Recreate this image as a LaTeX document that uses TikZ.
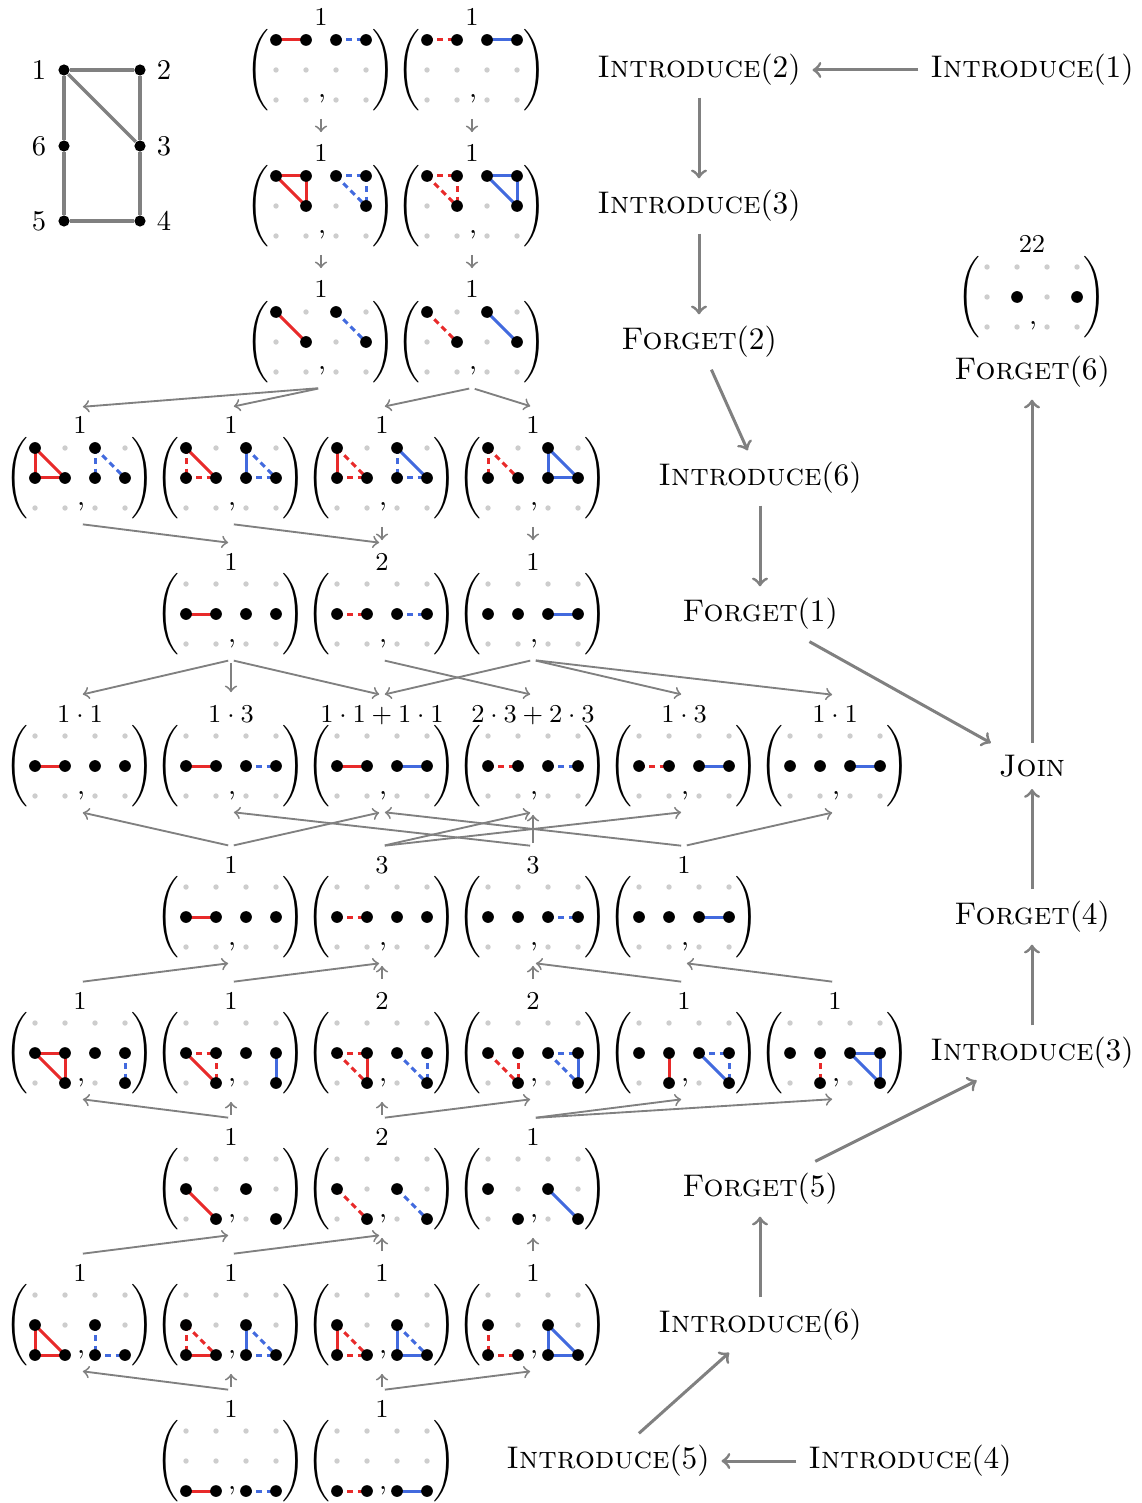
\documentclass[tikz,border=0pt]{standalone}
\usepackage{graphicx}
\definecolor{myred}{RGB}{232,42,42}
\definecolor{myblue}{RGB}{66,106,222}
\definecolor{dotgray}{RGB}{205,205,205}
\definecolor{arrgray}{RGB}{128,128,128}
\tikzset{
  eR/.style={myred, line width=1.05pt},
  eB/.style={myblue, line width=1.05pt},
  sol/.style={},
  dsh/.style={dash pattern=on 2.1pt off 1.5pt},
  marr/.style={->, arrgray, line width=0.65pt, shorten <=1pt, shorten >=1pt},
  tarr/.style={->, arrgray, line width=1.05pt},
  tnode/.style={inner sep=4pt, font=\fontsize{10.95}{13}\selectfont},
  mlabel/.style={font=\small, inner sep=0pt, anchor=base},
  paren/.style={inner sep=0pt},
  commanode/.style={inner sep=0pt, anchor=base},
  gv/.style={circle, fill=black, inner sep=0pt, minimum size=3.9pt},
  gedge/.style={arrgray, line width=1.15pt},
  glab/.style={font=\normalsize, inner sep=0pt},
}
\newcommand\myLp{\scalebox{1}[0.95]{$\Bigg($}}
\newcommand\myRp{\scalebox{1}[0.95]{$\Bigg)$}}
\newcommand\mmat[6]{%
\begin{scope}[shift={(#2,#3)}]
\foreach \cc in {1,2,3,4}{\foreach \rr in {1,2,3}{\fill[dotgray] ({(\cc-2.5)*30},{(\rr-2)*30}) circle (0.95pt);}}
\foreach \ca/\ra/\cb/\rb/\col/\sty in {#6}{\draw[\col,\sty] ({(\ca-2.5)*30},{(\ra-2)*30}) -- ({(\cb-2.5)*30},{(\rb-2)*30});}
\foreach \cc/\rr in {#5}{\fill[black] ({(\cc-2.5)*30},{(\rr-2)*30}) circle (2.05pt);}
\node[paren] (#1-lp) at (-63,0) {\myLp};
\node[paren] (#1-rp) at (63,0) {\myRp};
\node[commanode] (#1-cm) at (1,28) {,};
\node[mlabel] (#1) at (0,-44) {$#4$};
\coordinate (#1-t) at (0,-71);
\coordinate (#1-b) at (0,46);
\end{scope}}
\begin{document}
\begin{tikzpicture}[x=0.35pt,y=-0.35pt]
\useasboundingbox (0,0) rectangle (1142,1503);
% graph
\node[gv] (g1) at (64,70) {};
\node[gv] (g2) at (140,70) {};
\node[gv] (g6) at (64,146) {};
\node[gv] (g3) at (140,146) {};
\node[gv] (g5) at (64,221) {};
\node[gv] (g4) at (140,221) {};
\draw[gedge] (g1) -- (g2);
\draw[gedge] (g1) -- (g3);
\draw[gedge] (g2) -- (g3);
\draw[gedge] (g1) -- (g6);
\draw[gedge] (g6) -- (g5);
\draw[gedge] (g5) -- (g4);
\draw[gedge] (g3) -- (g4);
\node[glab] (gl1) at (39,70) {1};
\node[glab] (gl2) at (164,70) {2};
\node[glab] (gl6) at (39,146) {6};
\node[glab] (gl3) at (164,146) {3};
\node[glab] (gl5) at (39,221) {5};
\node[glab] (gl4) at (164,221) {4};
% row 1
\mmat{r1a}{321}{70}{1}{1/1,2/1,3/1,4/1}{1/1/2/1/eR/sol,3/1/4/1/eB/dsh}
\mmat{r1b}{472}{70}{1}{1/1,2/1,3/1,4/1}{1/1/2/1/eR/dsh,3/1/4/1/eB/sol}
% row 2
\mmat{r2a}{321}{206}{1}{1/1,2/1,2/2,3/1,4/1,4/2}{1/1/2/1/eR/sol,2/1/2/2/eR/sol,1/1/2/2/eR/sol,3/1/4/1/eB/dsh,4/1/4/2/eB/dsh,3/1/4/2/eB/dsh}
\mmat{r2b}{472}{206}{1}{1/1,2/1,2/2,3/1,4/1,4/2}{1/1/2/1/eR/dsh,2/1/2/2/eR/dsh,1/1/2/2/eR/dsh,3/1/4/1/eB/sol,4/1/4/2/eB/sol,3/1/4/2/eB/sol}
% row 3
\mmat{r3a}{321}{342}{1}{1/1,2/2,3/1,4/2}{1/1/2/2/eR/sol,3/1/4/2/eB/dsh}
\mmat{r3b}{472}{342}{1}{1/1,2/2,3/1,4/2}{1/1/2/2/eR/dsh,3/1/4/2/eB/sol}
% row 4
\mmat{r4a}{80}{478}{1}{1/1,1/2,2/2,3/1,3/2,4/2}{1/1/1/2/eR/sol,1/2/2/2/eR/sol,1/1/2/2/eR/sol,3/1/3/2/eB/dsh,3/1/4/2/eB/dsh}
\mmat{r4b}{231}{478}{1}{1/1,1/2,2/2,3/1,3/2,4/2}{1/1/1/2/eR/dsh,1/1/2/2/eR/sol,1/2/2/2/eR/dsh,3/1/3/2/eB/sol,3/1/4/2/eB/dsh,3/2/4/2/eB/dsh}
\mmat{r4c}{382}{478}{1}{1/1,1/2,2/2,3/1,3/2,4/2}{1/1/1/2/eR/sol,1/1/2/2/eR/dsh,1/2/2/2/eR/dsh,3/1/3/2/eB/dsh,3/1/4/2/eB/sol,3/2/4/2/eB/dsh}
\mmat{r4d}{533}{478}{1}{1/1,1/2,2/2,3/1,3/2,4/2}{1/1/1/2/eR/dsh,1/1/2/2/eR/dsh,3/1/3/2/eB/sol,3/1/4/2/eB/sol,3/2/4/2/eB/sol}
% row 5
\mmat{r5a}{231}{614}{1}{1/2,2/2,3/2,4/2}{1/2/2/2/eR/sol}
\mmat{r5b}{382}{614}{2}{1/2,2/2,3/2,4/2}{1/2/2/2/eR/dsh,3/2/4/2/eB/dsh}
\mmat{r5c}{533}{614}{1}{1/2,2/2,3/2,4/2}{3/2/4/2/eB/sol}
% row 6
\mmat{r6a}{80}{766}{1\cdot 1}{1/2,2/2,3/2,4/2}{1/2/2/2/eR/sol}
\mmat{r6b}{231}{766}{1\cdot 3}{1/2,2/2,3/2,4/2}{1/2/2/2/eR/sol,3/2/4/2/eB/dsh}
\mmat{r6c}{382}{766}{1\cdot 1+1\cdot 1}{1/2,2/2,3/2,4/2}{1/2/2/2/eR/sol,3/2/4/2/eB/sol}
\mmat{r6d}{533}{766}{2\cdot 3+2\cdot 3}{1/2,2/2,3/2,4/2}{1/2/2/2/eR/dsh,3/2/4/2/eB/dsh}
\mmat{r6e}{684}{766}{1\cdot 3}{1/2,2/2,3/2,4/2}{1/2/2/2/eR/dsh,3/2/4/2/eB/sol}
\mmat{r6f}{835}{766}{1\cdot 1}{1/2,2/2,3/2,4/2}{3/2/4/2/eB/sol}
% row 7
\mmat{r7a}{231}{917}{1}{1/2,2/2,3/2,4/2}{1/2/2/2/eR/sol}
\mmat{r7b}{382}{917}{3}{1/2,2/2,3/2,4/2}{1/2/2/2/eR/dsh}
\mmat{r7c}{533}{917}{3}{1/2,2/2,3/2,4/2}{3/2/4/2/eB/dsh}
\mmat{r7d}{684}{917}{1}{1/2,2/2,3/2,4/2}{3/2/4/2/eB/sol}
% row 8
\mmat{r8a}{80}{1053}{1}{1/2,2/2,2/3,3/2,4/2,4/3}{1/2/2/2/eR/sol,2/2/2/3/eR/sol,1/2/2/3/eR/sol,4/2/4/3/eB/dsh}
\mmat{r8b}{231}{1053}{1}{1/2,2/2,2/3,3/2,4/2,4/3}{1/2/2/2/eR/dsh,1/2/2/3/eR/sol,2/2/2/3/eR/dsh,4/2/4/3/eB/sol}
\mmat{r8c}{382}{1053}{2}{1/2,2/2,2/3,3/2,4/2,4/3}{1/2/2/2/eR/dsh,1/2/2/3/eR/dsh,2/2/2/3/eR/sol,3/2/4/3/eB/dsh,4/2/4/3/eB/dsh}
\mmat{r8d}{533}{1053}{2}{1/2,2/2,2/3,3/2,4/2,4/3}{1/2/2/3/eR/dsh,2/2/2/3/eR/dsh,3/2/4/2/eB/dsh,3/2/4/3/eB/dsh,4/2/4/3/eB/sol}
\mmat{r8e}{684}{1053}{1}{1/2,2/2,2/3,3/2,4/2,4/3}{2/2/2/3/eR/sol,3/2/4/2/eB/dsh,3/2/4/3/eB/sol,4/2/4/3/eB/dsh}
\mmat{r8f}{835}{1053}{1}{1/2,2/2,2/3,3/2,4/2,4/3}{2/2/2/3/eR/dsh,3/2/4/2/eB/sol,3/2/4/3/eB/sol,4/2/4/3/eB/sol}
% row 9
\mmat{r9a}{231}{1189}{1}{1/2,2/3,3/2,4/3}{1/2/2/3/eR/sol}
\mmat{r9b}{382}{1189}{2}{1/2,2/3,3/2,4/3}{1/2/2/3/eR/dsh,3/2/4/3/eB/dsh}
\mmat{r9c}{533}{1189}{1}{1/2,2/3,3/2,4/3}{3/2/4/3/eB/sol}
% row 10
\mmat{r10a}{80}{1325}{1}{1/2,1/3,2/3,3/2,3/3,4/3}{1/2/1/3/eR/sol,1/2/2/3/eR/sol,1/3/2/3/eR/sol,3/2/3/3/eB/dsh,3/3/4/3/eB/dsh}
\mmat{r10b}{231}{1325}{1}{1/2,1/3,2/3,3/2,3/3,4/3}{1/2/1/3/eR/dsh,1/2/2/3/eR/dsh,1/3/2/3/eR/sol,3/2/3/3/eB/sol,3/2/4/3/eB/dsh,3/3/4/3/eB/dsh}
\mmat{r10c}{382}{1325}{1}{1/2,1/3,2/3,3/2,3/3,4/3}{1/2/1/3/eR/sol,1/2/2/3/eR/dsh,1/3/2/3/eR/dsh,3/2/3/3/eB/sol,3/2/4/3/eB/dsh,3/3/4/3/eB/sol}
\mmat{r10d}{533}{1325}{1}{1/2,1/3,2/3,3/2,3/3,4/3}{1/2/1/3/eR/dsh,1/3/2/3/eR/dsh,3/2/3/3/eB/sol,3/2/4/3/eB/sol,3/3/4/3/eB/sol}
% row 11
\mmat{r11a}{231}{1461}{1}{1/3,2/3,3/3,4/3}{1/3/2/3/eR/sol,3/3/4/3/eB/dsh}
\mmat{r11b}{382}{1461}{1}{1/3,2/3,3/3,4/3}{1/3/2/3/eR/dsh,3/3/4/3/eB/sol}
% final matrix
\mmat{fin}{1032}{297}{22}{2/2,4/2}{2/2/2/2/eR/sol}
% matrix arrows
\draw[marr] (r1a-b) -- (r2a-t);
\draw[marr] (r1b-b) -- (r2b-t);
\draw[marr] (r2a-b) -- (r3a-t);
\draw[marr] (r2b-b) -- (r3b-t);
\draw[marr] (r3a-b) -- (r4a-t);
\draw[marr] (r3a-b) -- (r4b-t);
\draw[marr] (r3b-b) -- (r4c-t);
\draw[marr] (r3b-b) -- (r4d-t);
\draw[marr] (r4a-b) -- (r5a-t);
\draw[marr] (r4b-b) -- (r5b-t);
\draw[marr] (r4c-b) -- (r5b-t);
\draw[marr] (r4d-b) -- (r5c-t);
\draw[marr] (r5a-b) -- (r6a-t);
\draw[marr] (r5a-b) -- (r6b-t);
\draw[marr] (r5a-b) -- (r6c-t);
\draw[marr] (r5b-b) -- (r6d-t);
\draw[marr] (r5c-b) -- (r6c-t);
\draw[marr] (r5c-b) -- (r6e-t);
\draw[marr] (r5c-b) -- (r6f-t);
\draw[marr] (r7a-t) -- (r6a-b);
\draw[marr] (r7a-t) -- (r6c-b);
\draw[marr] (r7b-t) -- (r6d-b);
\draw[marr] (r7b-t) -- (r6e-b);
\draw[marr] (r7c-t) -- (r6b-b);
\draw[marr] (r7c-t) -- (r6d-b);
\draw[marr] (r7d-t) -- (r6c-b);
\draw[marr] (r7d-t) -- (r6f-b);
\draw[marr] (r8a-t) -- (r7a-b);
\draw[marr] (r8b-t) -- (r7b-b);
\draw[marr] (r8c-t) -- (r7b-b);
\draw[marr] (r8d-t) -- (r7c-b);
\draw[marr] (r8e-t) -- (r7c-b);
\draw[marr] (r8f-t) -- (r7d-b);
\draw[marr] (r9a-t) -- (r8a-b);
\draw[marr] (r9a-t) -- (r8b-b);
\draw[marr] (r9b-t) -- (r8c-b);
\draw[marr] (r9b-t) -- (r8d-b);
\draw[marr] (r9c-t) -- (r8e-b);
\draw[marr] (r9c-t) -- (r8f-b);
\draw[marr] (r10a-t) -- (r9a-b);
\draw[marr] (r10b-t) -- (r9b-b);
\draw[marr] (r10c-t) -- (r9b-b);
\draw[marr] (r10d-t) -- (r9c-b);
\draw[marr] (r11a-t) -- (r10a-b);
\draw[marr] (r11a-t) -- (r10b-b);
\draw[marr] (r11b-t) -- (r10c-b);
\draw[marr] (r11b-t) -- (r10d-b);
% tree decomposition
\node[tnode] (tI1) at (1032,70) {\textsc{Introduce}(1)};
\node[tnode] (tI2) at (699,70) {\textsc{Introduce}(2)};
\node[tnode] (tI3) at (699,206) {\textsc{Introduce}(3)};
\node[tnode] (tF2) at (699,342) {\textsc{Forget}(2)};
\node[tnode] (tI6) at (760,478) {\textsc{Introduce}(6)};
\node[tnode] (tF1) at (760,614) {\textsc{Forget}(1)};
\node[tnode] (tF6) at (1032,372) {\textsc{Forget}(6)};
\node[tnode] (tJ) at (1032,766) {\textsc{Join}};
\node[tnode] (tF4) at (1032,917) {\textsc{Forget}(4)};
\node[tnode] (tI3b) at (1032,1053) {\textsc{Introduce}(3)};
\node[tnode] (tF5) at (760,1189) {\textsc{Forget}(5)};
\node[tnode] (tI6b) at (760,1325) {\textsc{Introduce}(6)};
\node[tnode] (tI5) at (608,1461) {\textsc{Introduce}(5)};
\node[tnode] (tI4) at (910,1461) {\textsc{Introduce}(4)};
\draw[tarr] (tI1) -- (tI2);
\draw[tarr] (tI2) -- (tI3);
\draw[tarr] (tI3) -- (tF2);
\draw[tarr] (tF2) -- (tI6);
\draw[tarr] (tI6) -- (tF1);
\draw[tarr] (tF1) -- (tJ);
\draw[tarr] (tJ) -- (tF6);
\draw[tarr] (tF4) -- (tJ);
\draw[tarr] (tI3b) -- (tF4);
\draw[tarr] (tF5) -- (tI3b);
\draw[tarr] (tI6b) -- (tF5);
\draw[tarr] (tI5) -- (tI6b);
\draw[tarr] (tI4) -- (tI5);
\end{tikzpicture}
\end{document}
